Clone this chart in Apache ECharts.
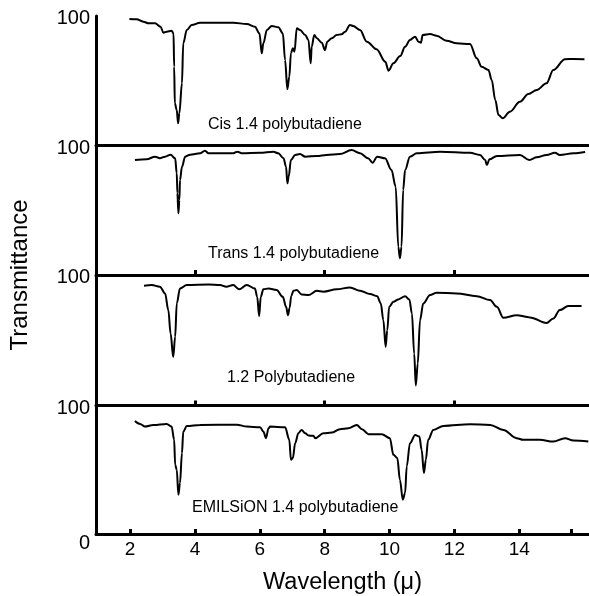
<!DOCTYPE html>
<html><head><meta charset="utf-8">
<script src="https://cdn.jsdelivr.net/npm/echarts@6/dist/echarts.min.js"></script>
<style>html,body{margin:0;padding:0;background:#fff}#c{width:589px;height:596px}</style>
</head><body><div id="c"></div>
<script>
// ---- data ----
const panelNames = ['Cis 1.4 polybutadiene', 'Trans 1.4 polybutadiene', '1.2 Polybutadiene', 'EMILSiON 1.4 polybutadiene'];

const cisW = [1.98,2.2,2.41,2.57,2.77,2.94,3.03,3.13,3.28,3.34,3.36,3.38,3.44,3.48,3.52,3.6,3.64,3.75,3.9,4.16,5.18,5.6,5.85,5.99,6.06,6.11,6.22,6.37,6.57,6.71,6.78,6.85,6.91,6.96,7.02,7.07,7.14,7.24,7.4,7.5,7.57,7.6,7.68,7.76,7.91,8.01,8.08,8.22,8.37,8.52,8.63,8.78,8.88,9.09,9.3,9.6,9.87,9.97,10.12,10.33,10.48,10.63,10.79,10.89,10.97,11.02,11.25,11.45,11.76,12.07,12.48,12.69,12.84,13.05,13.15,13.26,13.36,13.49,13.71,14.02,14.28,14.54,14.84,15.05,15.41,15.67,16.01];
const cisT = [97.7,97.5,95.6,94.4,94.4,91.7,87.1,87.9,88.6,86.6,60.8,32.6,27.4,17.1,24.9,48,78.9,89.2,93,94.8,94.8,93.8,91.7,86.6,71.2,78.9,89.2,92.3,91.3,86.6,66,43.4,53.1,71.2,75.1,72.4,90.5,89.2,85.3,81.5,63.5,76.3,85.3,82.8,79.4,73.7,80.2,82.8,85.3,85.9,87.9,93,92.3,89.2,80.2,74.3,64.7,57.8,63.5,69.1,76.3,81.5,84,80.2,79.4,85.3,86.1,84.8,80.9,78.9,78.4,67.3,60.8,58.3,50.6,35.1,23.6,21,26.1,33.8,39.8,42.9,48,58.3,66.6,66.8,66.6];

const transW = [2.15,2.51,2.77,2.92,3.08,3.25,3.39,3.44,3.46,3.49,3.52,3.54,3.6,3.7,3.85,4.16,4.31,4.42,4.77,5.18,5.31,5.44,6.01,6.42,6.57,6.73,6.81,6.85,6.89,6.96,7.09,7.24,7.4,7.76,8.06,8.47,8.83,9.09,9.34,9.48,9.62,9.86,10.06,10.19,10.27,10.32,10.37,10.42,10.48,10.63,10.84,11.56,12.48,12.79,12.95,13.0,13.08,13.31,14.02,14.31,14.54,14.84,15.1,15.25,15.67,16.03];
const transT = [88.8,89.3,91.4,90.1,91.4,92.9,90.1,78.5,63.1,47.6,57.9,73.4,83.6,91.4,92.9,94,96,94,94,94,95.2,94,94.4,95.2,94,90.1,83.6,70.8,75.9,88.8,92.7,93.4,91.4,91.9,92.7,93.4,96.5,94,90.1,86.7,91.4,90.1,81.1,68.2,21.9,12.9,21.9,65.6,81.1,91.4,94,95.2,94.4,92.7,88.8,84.9,89.3,91.9,92.7,88.8,90.9,92.7,94.4,92.7,94,95];

const vinylW = [2.43,2.67,2.92,3.08,3.18,3.25,3.33,3.39,3.44,3.54,3.75,4.42,4.77,4.97,5.18,5.36,5.6,5.85,5.92,5.98,6.03,6.11,6.27,6.52,6.71,6.81,6.87,6.92,6.97,7.04,7.14,7.29,7.5,7.76,7.96,8.37,8.78,9.09,9.4,9.62,9.73,9.81,9.88,9.93,9.99,10.12,10.27,10.48,10.61,10.69,10.76,10.81,10.87,10.94,11.04,11.25,11.45,12.07,12.69,13.1,13.31,13.51,13.92,14.33,14.84,15.05,15.25,15.51,15.92];
const vinylT = [91.8,92.3,91,85.9,73.1,55.1,37.2,52.6,78.2,89.7,92.3,92.8,92.3,91,92.3,89,92.3,89.7,83.3,68.5,83.3,89,89.7,88.5,83.3,75.6,69.2,75,84,88,88.5,85.1,84.6,87.9,87.2,89,90.5,87.9,85.4,83.8,78.2,65.4,44.9,57.7,75.6,79.5,81.3,83.8,81.3,70.5,39.8,15.4,32.1,65.4,78.2,84.6,86.4,85.9,83.8,80.8,75.6,67.2,69.2,67.5,63.3,66.7,73.1,76.2,76.2];

const emilW = [2.15,2.31,2.46,2.72,3.13,3.28,3.36,3.39,3.44,3.49,3.54,3.6,3.64,3.75,4.16,5.29,5.6,6.01,6.11,6.19,6.27,6.32,6.78,6.91,6.96,7.02,7.09,7.19,7.29,7.4,7.5,7.65,7.71,7.96,8.22,8.47,8.73,8.99,9.15,9.35,9.76,10.01,10.12,10.24,10.32,10.41,10.48,10.53,10.63,10.79,10.92,10.99,11.06,11.12,11.19,11.35,11.66,12.48,13.1,13.51,13.92,14.12,14.63,15.05,15.41,15.67,16.13];
const emilT = [88,85.7,83.6,84.9,85.7,83.6,73.3,53.9,50,30.6,39.7,62.9,79.7,84.1,84.9,85.1,83.6,83.1,79.7,74.6,82.3,83.6,83.1,73.3,57.8,59.1,70.7,78.4,81,78.4,76.6,76.4,74.6,78.4,78.9,81.6,82.3,84.9,81.6,77.7,77.7,74.6,61.6,59.1,42.2,26.7,31.9,52.6,70.7,77.1,75.8,65.5,47.4,57.8,73.3,81,84.1,85.4,84.9,81,74.6,73.3,73.3,71.9,74.6,72.7,71.9];

const xTicksBottom = [2,4,6,8,10,12,14,15.6];
const xLabelsBottom = [2,4,6,8,10,12,14];
const xTicksInner = [4,8,12];
const yLabelsInner = [100];
const yLabelsBottom = [0,100];
const xName = 'Wavelength (\u03bc)';
const yName = 'Transmittance';

// ---- layout ----
const FONT = '"Liberation Sans", Arial, Helvetica, sans-serif';
const panels = [
  {top:16, h:129.5, name:[208,125]},
  {top:145.5, h:129.5, name:[208,254]},
  {top:275, h:130.5, name:[227,377.5]},
  {top:405.5, h:129, name:[192,507.5]}
];
const seriesW = [cisW, transW, vinylW, emilW];
const seriesT = [cisT, transT, vinylT, emilT];

const grid = panels.map(p => ({left:96, right:0, top:p.top, height:p.h, containLabel:false}));
const xAxis = panels.map((p,i) => ({
  type:'value', gridIndex:i, min:0.95, max:16.15,
  axisLine:{show:true, onZero:false, lineStyle:{color:'#000', width:3}},
  axisTick: i===0 ? {show:false} : {show:true, inside:true, length:5, lineStyle:{color:'#000', width:3},
    customValues: i===3 ? xTicksBottom : xTicksInner},
  axisLabel: i===3 ? {show:true, customValues:xLabelsBottom, color:'#000', fontSize:19, fontFamily:FONT, margin:6} : {show:false},
  splitLine:{show:false},
  name: i===3 ? xName : '', nameLocation:'middle', nameGap:37,
  nameTextStyle:{color:'#000', fontSize:23.5, fontFamily:FONT}
}));
const yAxis = panels.map((p,i) => ({
  type:'value', gridIndex:i, min:0, max:100,
  axisLine:{show:true, onZero:false, lineStyle:{color:'#000', width:3}},
  axisTick:{show:false}, splitLine:{show:false},
  axisLabel:{show:true, customValues: i===3 ? yLabelsBottom : yLabelsInner, margin:6,
    formatter: v => v === 0 ? '{z|' + v + '}' : '{h|' + v + '}',
    rich:{
      h:{color:'#000', fontSize:20, fontFamily:FONT, padding:[5,0,0,0]},
      z:{color:'#000', fontSize:20, fontFamily:FONT, padding:[19,0,0,0]}
    }}
}));
const series = panels.map((p,i) => ({
  type:'line', xAxisIndex:i, yAxisIndex:i,
  data: seriesW[i].map((w,k) => [w, seriesT[i][k]]),
  showSymbol:false, smooth:0.35, smoothMonotone:'x',
  lineStyle:{color:'#000', width:2}, silent:true
}));
const graphic = panels.map((p,i) => ({
  type:'text', x:p.name[0], y:p.name[1],
  style:{text:panelNames[i], fill:'#000', font:'16px ' + FONT, textVerticalAlign:'middle'}
}));
graphic.push({type:'text', x:20, y:275, rotation:Math.PI/2,
  style:{text:yName, fill:'#000', font:'24px ' + FONT, textAlign:'center', textVerticalAlign:'middle'}});

const chart = echarts.init(document.getElementById('c'), null, {renderer:'canvas'});
chart.setOption({animation:false, backgroundColor:'#fff', grid, xAxis, yAxis, series, graphic});
</script>
</body></html>
